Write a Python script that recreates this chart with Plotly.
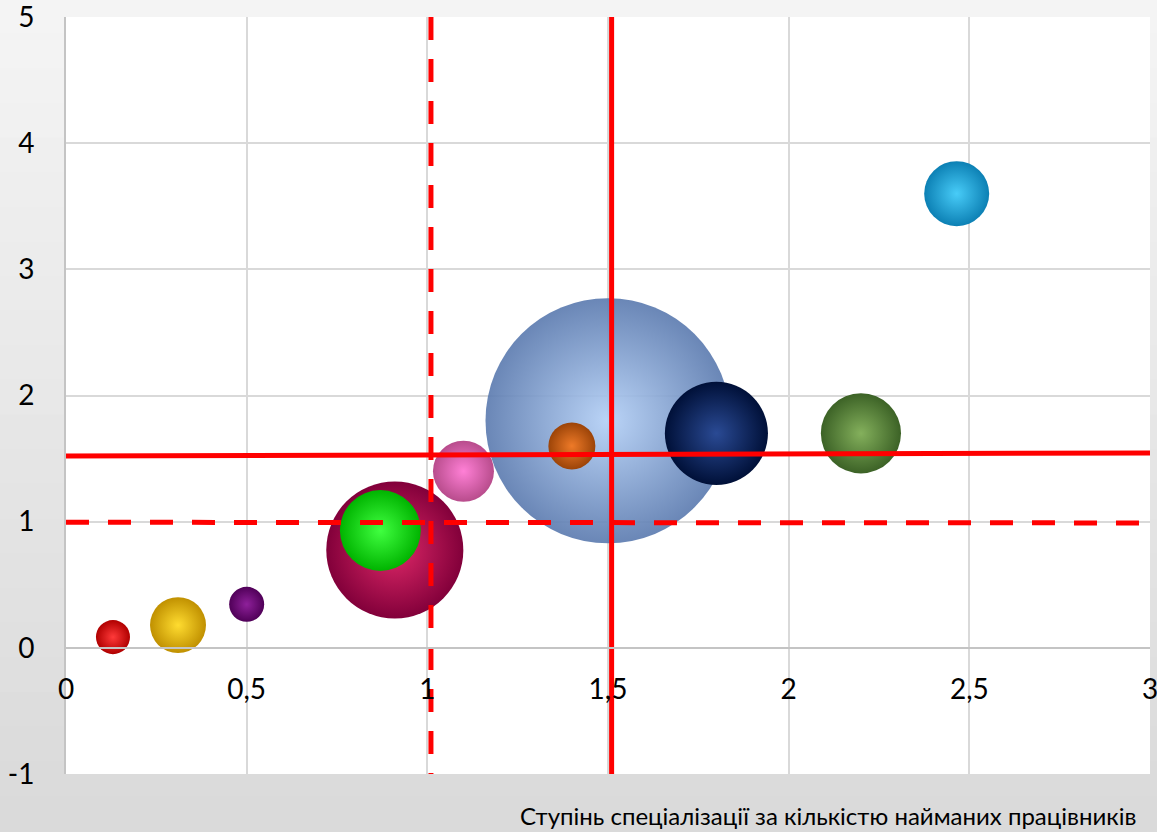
import plotly.graph_objects as go
import numpy as np

# Bubble data (x = specialisation degree, y = second index, size = bubble value)
bubble_x = [0.13, 0.31, 0.50, 0.91, 0.87, 1.10, 1.40, 1.50, 1.80, 2.20, 2.465]
bubble_y = [0.085, 0.18, 0.345, 0.775, 0.93, 1.40, 1.60, 1.80, 1.70, 1.70, 3.60]
bubble_size = [1.93, 5.22, 2.04, 31.3, 10.9, 6.2, 3.68, 100.0, 17.7, 10.7, 7.04]
center_colors = ["#ff3a3a", "#ffdc30", "#8e209a", "#de2868", "#40ff40", "#ff80d6",
                 "#ee7a28", "#b4d0f6", "#2a4a94", "#84b05c", "#48ccf8"]
edge_colors = ["#b00000", "#c09000", "#500058", "#82003a", "#00b400", "#b84c8c",
               "#9c4408", "#5d7cb0", "#001038", "#3c6226", "#0c80b4"]
bubble_opacity = [1, 1, 1, 1, 1, 1, 1, 0.92, 1, 1, 1]

# Reference lines
vline_solid_x = [1.51, 1.51]
vline_dash_x = [1.01, 1.01]
vline_y = [5, -1]
hline_x = [0, 3]
hline_solid_y = [1.52, 1.545]
hline_dash_y = [0.995, 0.99]

x_range = [0, 3]
y_range = [-1, 5]
x_tickvals = [0, 0.5, 1, 1.5, 2, 2.5, 3]
x_ticktext = ["0", "0,5", "1", "1,5", "2", "2,5", "3"]
y_tickvals = [-1, 0, 1, 2, 3, 4, 5]
y_ticktext = ["-1", "0", "1", "2", "3", "4", "5"]
x_title = "Ступінь спеціалізації за кількістю найманих працівників"

W, H = 1157, 832
ML, MR, MT, MB = 66, 7, 17, 58

order = np.argsort(bubble_size)[::-1]
bx = [bubble_x[i] for i in order]
by = [bubble_y[i] for i in order]
bs = [bubble_size[i] for i in order]
bc = [center_colors[i] for i in order]
be = [edge_colors[i] for i in order]
bo = [bubble_opacity[i] for i in order]

max_d = 245
fig = go.Figure()
fig.add_trace(go.Scatter(
    x=bx, y=by, mode="markers",
    marker=dict(size=bs, sizemode="area", sizeref=2 * max(bs) / max_d ** 2,
                color=be, opacity=bo, line=dict(width=0),
                gradient=dict(type="radial", color=bc)),
    hoverinfo="skip", showlegend=False, cliponaxis=False))

line_style = dict(color="#ff0000", width=5)
fig.add_trace(go.Scatter(x=vline_dash_x, y=vline_y, mode="lines",
                         line=dict(**line_style, dash="23px,19px"), showlegend=False, hoverinfo="skip"))
fig.add_trace(go.Scatter(x=hline_x, y=hline_dash_y, mode="lines",
                         line=dict(**line_style, dash="23px,19px"), showlegend=False, hoverinfo="skip"))
fig.add_trace(go.Scatter(x=vline_solid_x, y=vline_y, mode="lines",
                         line=line_style, showlegend=False, hoverinfo="skip"))
fig.add_trace(go.Scatter(x=hline_x, y=hline_solid_y, mode="lines",
                         line=line_style, showlegend=False, hoverinfo="skip"))

# paper gradient background
pw = W - ML - MR
ph = H - MT - MB
x0p, x1p = -ML / pw, 1 + MR / pw
y0p, y1p = -MB / ph, 1 + MT / ph
shapes = []
n = 24
for k in range(n):
    t = k / (n - 1)
    v = int(round(244 - (244 - 218) * t))
    ya = y1p - (y1p - y0p) * k / n
    yb = y1p - (y1p - y0p) * (k + 1) / n
    shapes.append(dict(type="rect", xref="paper", yref="paper", x0=x0p, x1=x1p,
                       y0=yb, y1=ya + 0.002, fillcolor=f"rgb({v},{v},{v})",
                       line=dict(width=0), layer="below"))
shapes.append(dict(type="rect", xref="paper", yref="paper", x0=0, x1=1, y0=0, y1=1,
                   fillcolor="white", line=dict(width=0), layer="below"))

fig.update_layout(
    width=W, height=H,
    margin=dict(l=ML, r=MR, t=MT, b=MB, autoexpand=False),
    paper_bgcolor="#e8e8e8", plot_bgcolor="rgba(0,0,0,0)",
    font=dict(family="Lato, 'Open Sans', sans-serif", color="#000000"),
    shapes=shapes,
    xaxis=dict(range=x_range, tickvals=x_tickvals, ticktext=x_ticktext,
               showgrid=True, gridcolor="#d9d9d9", gridwidth=2,
               zeroline=False, showline=True, linecolor="#c4c4c4", linewidth=2,
               anchor="free", position=(0 - y_range[0]) / (y_range[1] - y_range[0]),
               ticks="", ticklabelstandoff=17, tickfont=dict(size=28), automargin=False,
               ticklabeloverflow="allow"),
    yaxis=dict(range=y_range, tickvals=y_tickvals, ticktext=y_ticktext,
               showgrid=True, gridcolor="#d9d9d9", gridwidth=2,
               zeroline=False, showline=True, linecolor="#c4c4c4", linewidth=2,
               ticks="", ticklabelstandoff=24, tickfont=dict(size=28), automargin=False,
               ticklabeloverflow="allow"),
    annotations=[dict(text=x_title, xref="paper", yref="paper", x=(1138 - ML) / pw,
                      y=-(815 - (H - MB)) / ph, xanchor="right", yanchor="middle",
                      showarrow=False, font=dict(size=24, color="#000000"))],
)

fig.write_html("out.html", config={"displayModeBar": False},
               post_script="document.body.style.margin='0px';document.body.style.overflow='hidden';")
